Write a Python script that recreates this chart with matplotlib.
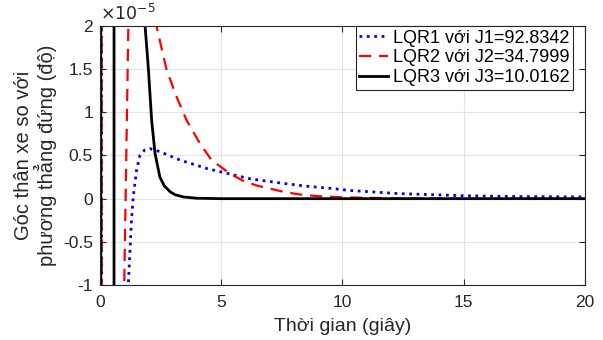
import matplotlib
matplotlib.use("Agg")
import matplotlib.pyplot as plt
from matplotlib.ticker import FuncFormatter

plt.rcParams['font.family'] = ['Liberation Sans', 'DejaVu Sans']
plt.rcParams['axes.unicode_minus'] = False

SCALE = 1e-5

# values, in units of 1e-5 (big values run off the axes)
t_lqr1 = [0, 0.13, 0.6, 1.12, 1.17, 1.30, 1.37, 1.51, 1.65, 1.85, 2.06, 2.47,
          3.3, 4.4, 5.36, 6.19, 7.56, 8.5, 9.48, 10.31, 12.23, 14.97, 17, 20]
y_lqr1 = [40, -40, -60, -3, -0.98, -0.25, 0.02, 0.33, 0.505, 0.565, 0.58, 0.545,
          0.447, 0.35, 0.285, 0.23, 0.177, 0.145, 0.12, 0.095, 0.06, 0.034, 0.025, 0.02]

t_lqr2 = [0, 0.14, 0.5, 0.98, 1.0, 1.17, 1.25, 1.7, 2.25, 2.33, 2.75, 3.16, 3.57,
          4.12, 4.6, 5.36, 5.98, 6.5, 7.56, 8.2, 8.93, 10.03, 12, 15, 20]
y_lqr2 = [40, -40, -80, -3, -1.0, 2.0, 6, 9, 2.2, 2.0, 1.49, 1.18, 0.91,
          0.64, 0.447, 0.29, 0.196, 0.15, 0.08, 0.05, 0.03, 0.015, 0.005, 0.0, 0.0]

t_lqr3 = [0, 0.07, 0.3, 0.575, 0.585, 1.2, 1.84, 1.86, 2.0, 2.13, 2.27, 2.47,
          2.65, 2.89, 3.1, 3.44, 3.99, 5.0, 20]
y_lqr3 = [40, -40, -80, -40, 40, 80, 2.3, 2.0, 1.49, 0.91, 0.525, 0.25,
          0.15, 0.08, 0.045, 0.02, 0.005, 0.0, 0.0]

labels = ['LQR1 với J1=92.8342', 'LQR2 với J2=34.7999', 'LQR3 với J3=10.0162']

fig = plt.figure(figsize=(6.03, 3.40), dpi=100)
ax = fig.add_axes([0.1658, 0.1618, 0.8042, 0.7617])

ax.plot(t_lqr1, [v * SCALE for v in y_lqr1], color='blue', linestyle=':', lw=2.0, label=labels[0])
ax.plot(t_lqr2, [v * SCALE for v in y_lqr2], color='red', linestyle=(0, (5.5, 3.5)), lw=1.6, label=labels[1])
ax.plot(t_lqr3, [v * SCALE for v in y_lqr3], color='black', linestyle='-', lw=2.0, label=labels[2])

ax.set_xlim(0, 20)
ax.set_ylim(-1 * SCALE, 2 * SCALE)
ax.set_xticks([0, 5, 10, 15, 20])
ax.set_yticks([v * SCALE for v in [-1, -0.5, 0, 0.5, 1, 1.5, 2]])
ax.yaxis.set_major_formatter(FuncFormatter(lambda v, p: '%g' % round(v / SCALE, 3)))

ax.grid(True, color='#e3e3e3', lw=0.8)
ax.tick_params(direction='in', top=True, right=True, length=4, labelsize=12.5,
               color='#262626', labelcolor='#262626')
ax.tick_params(axis='x', pad=7)
ax.tick_params(axis='y', pad=5)
for s in ax.spines.values():
    s.set_color('#262626')
    s.set_linewidth(0.8)

ax.text(0.0, 1.01, r'$\times10^{-5}$', transform=ax.transAxes, fontsize=12.5,
        ha='left', va='bottom', color='#262626')

ax.set_xlabel('Thời gian (giây)', fontsize=14, color='#262626', labelpad=6)
ax.set_ylabel('Góc thân xe so với\nphương thẳng đứng (độ)', fontsize=14.5, color='#262626',
              linespacing=1.05, labelpad=4)

leg = ax.legend(loc='upper right', bbox_to_anchor=(0.975, 1.0), fontsize=13,
                fancybox=False, framealpha=1, edgecolor='#262626', borderpad=0.2,
                handlelength=1.6, handletextpad=0.25, labelspacing=0.15, borderaxespad=0)
leg.get_frame().set_linewidth(0.8)

fig.savefig('out.png', dpi=100)
